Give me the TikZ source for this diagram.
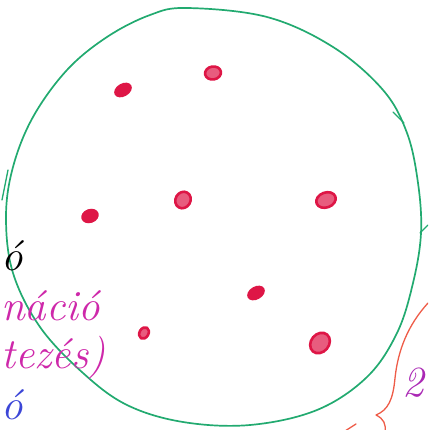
\documentclass[tikz,border=0pt]{standalone}
\usepackage{tikz}
\usetikzlibrary{shapes.geometric}

\definecolor{pengreen}{RGB}{34,170,112}
\definecolor{dotred}{RGB}{222,22,70}
\definecolor{penmagenta}{RGB}{206,40,170}
\definecolor{penblue}{RGB}{60,70,215}
\definecolor{penorange}{RGB}{238,92,72}
\definecolor{penpurple}{RGB}{170,40,180}

\begin{document}
\begin{tikzpicture}[
x=1pt, y=-1pt,
pen/.style={
line width=1.3pt,
line cap=round,
line join=round
},
dot/.style={
ellipse,
fill=dotred,
inner sep=0pt
},
ringdot/.style={
ellipse,
draw=dotred,
line width=2.6pt,
fill=dotred!70,
inner sep=0pt
},
scrawl/.style={
anchor=base west,
inner sep=0pt,
font=\fontsize{43}{46}\selectfont\itshape
}
]

\useasboundingbox (0,0) rectangle (428,430);
\clip (0,0) rectangle (428,430);


% The set

\draw[pen, pengreen, line width=1.7pt] plot[smooth cycle, tension=0.6] coordinates {
(187,8) (267,17) (333,47) (383,90) (407,133) (418,183) (421,233)
(413,283) (397,333) (367,377) (317,410) (250,425) (183,422)
(127,405) (83,373) (40,327) (13,273) (6,217) (13,167) (33,117)
(67,70) (107,37) (150,15)
};

% stray green strokes
\draw[pen, pengreen] (8,170) -- (2,200);
\draw[pen, pengreen] (393,112) -- (404,123);
\draw[pen, pengreen] (420,233) -- (428,225);


% Elements

\node (p1) [dot, minimum width=19pt, minimum height=13pt, rotate=30] at (123,90) {};
\node (p2) [ringdot, minimum width=16pt, minimum height=13pt, rotate=10] at (213,73) {};
\node (p3) [dot, minimum width=18pt, minimum height=14pt, rotate=20] at (90,216) {};
\node (p4) [ringdot, minimum width=17pt, minimum height=15pt, rotate=60] at (183,200) {};
\node (p5) [ringdot, minimum width=20pt, minimum height=15pt, rotate=20] at (326,200) {};
\node (p6) [dot, minimum width=19pt, minimum height=13pt, rotate=30] at (256,293) {};
\node (p7) [ringdot, minimum width=12pt, minimum height=9pt, rotate=60] at (144,333) {};
\node (p8) [ringdot, minimum width=22pt, minimum height=18pt, rotate=50] at (320,343) {};


% Notes on the left

\node (mark) [scrawl, text=black] at (1,270) {ó};

\node (info) [scrawl, text=penmagenta] at (1,320) {náció};

\node (hypo) [scrawl, text=penmagenta] at (1,368) {tezés)};

\node (low) [scrawl, text=penblue] at (1,419) {ó};


% Brace and count on the right

\draw[pen, penorange] (428,303) .. controls (408,325) and (398,350) .. (395,378)
.. controls (393,400) and (388,410) .. (376,415)
.. controls (384,419) and (386,424) .. (385,432);
\draw[pen, penorange] (345,431) -- (356,424);

\node (count) [scrawl, text=penpurple] at (402,396) {2};


\end{tikzpicture}
\end{document}
